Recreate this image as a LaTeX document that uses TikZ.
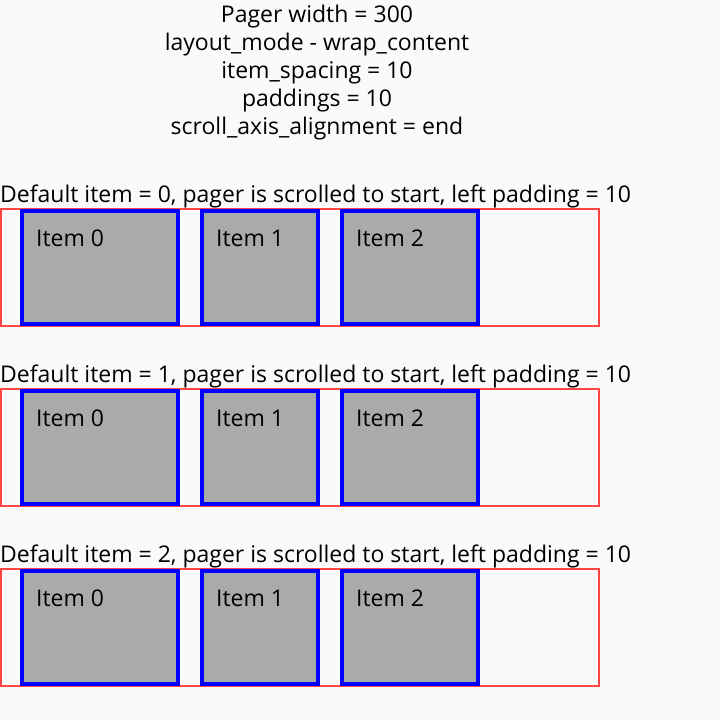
\documentclass[tikz,border=0pt]{standalone}
\usepackage{fontspec}
\setmainfont{Open Sans}
\definecolor{bg}{HTML}{FAFAFA}
\definecolor{pagerred}{HTML}{FF4444}
\definecolor{itemblue}{HTML}{0000FF}
\definecolor{itemgray}{HTML}{AAAAAA}
\tikzset{
  pager/.style={draw=pagerred, line width=2pt},
  itembox/.style={draw=itemblue, fill=itemgray, line width=4pt},
  txt/.style={inner sep=0pt, font=\fontsize{23}{28}\selectfont, text=black},
}
\begin{document}
\begin{tikzpicture}[x=1pt,y=-1pt]
\fill[bg] (0,0) rectangle (720,720);
\useasboundingbox (0,0) rectangle (720,720);
\node[txt, anchor=base] (t1) at (317,22.5) {Pager width = 300};
\node[txt, anchor=base] (t2) at (317,50.5) {layout\_mode - wrap\_content};
\node[txt, anchor=base] (t3) at (317,78.5) {item\_spacing = 10};
\node[txt, anchor=base] (t4) at (317,106.5) {paddings = 10};
\node[txt, anchor=base] (t5) at (317,134.5) {scroll\_axis\_alignment = end};
\foreach \r/\dy in {0/0,1/180,2/360}{
  \node[txt, anchor=base west] (h\r) at (0,202.5+\dy) {Default item = \r, pager is scrolled to start, left padding = 10};
  \draw[pager] (1,209+\dy) rectangle (599,326+\dy);
  \draw[itembox] (22,211+\dy) rectangle (178,324+\dy);
  \draw[itembox] (202,211+\dy) rectangle (318,324+\dy);
  \draw[itembox] (342,211+\dy) rectangle (478,324+\dy);
  \node[txt, anchor=base west] (a\r) at (36,246+\dy) {Item 0};
  \node[txt, anchor=base west] (b\r) at (216,246+\dy) {Item 1};
  \node[txt, anchor=base west] (c\r) at (356,246+\dy) {Item 2};
}
\end{tikzpicture}
\end{document}
